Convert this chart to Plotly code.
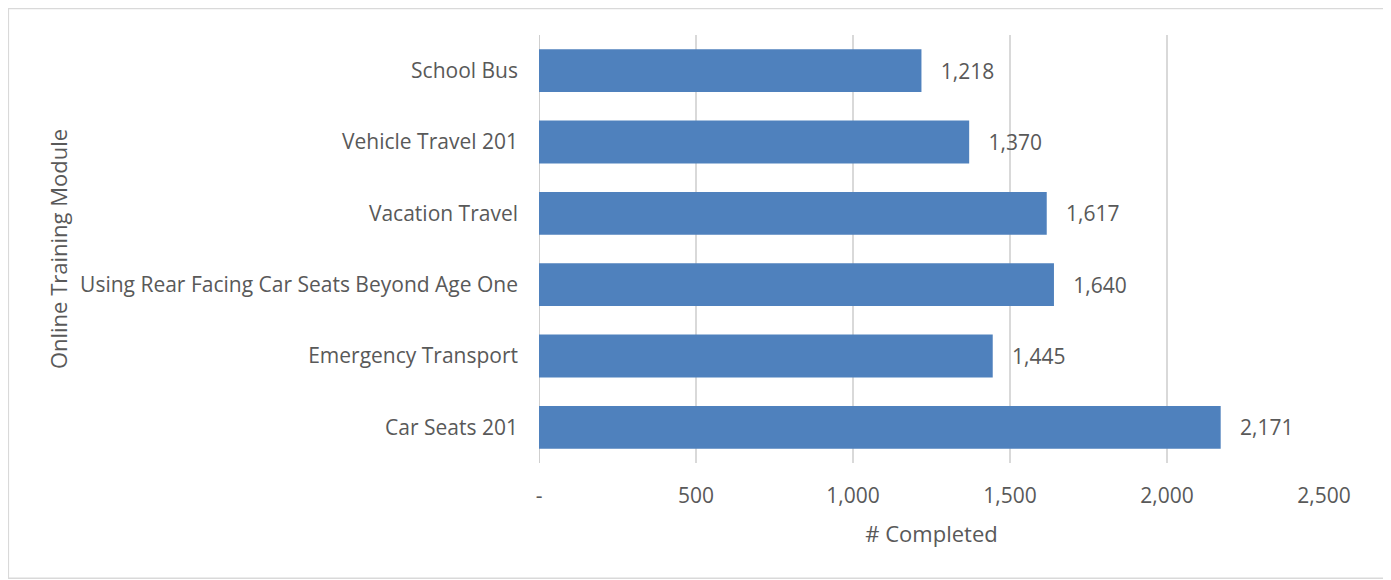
import plotly.graph_objects as go

# Modules listed bottom to top (plotly draws first category at the bottom)
modules = [
    "Car Seats 201",
    "Emergency Transport",
    "Using Rear Facing Car Seats Beyond Age One",
    "Vacation Travel",
    "Vehicle Travel 201",
    "School Bus",
]
completed = [2171, 1445, 1640, 1617, 1370, 1218]

tick_vals = [0, 500, 1000, 1500, 2000, 2500]
tick_text = ["-", "500", "1,000", "1,500", "2,000", "2,500"]

FONT = "Open Sans"
TEXT_GREY = "#595959"

fig = go.Figure(go.Bar(
    y=modules,
    x=completed,
    orientation="h",
    marker=dict(color="#4F81BD", line=dict(color="#4F81BD", width=0)),
    width=0.6,
    text=[f"{v:,}" for v in completed],
    texttemplate="   %{text}",
    textposition="outside",
    cliponaxis=False,
    textfont=dict(family=FONT, size=21, color=TEXT_GREY),
    hoverinfo="x+y",
))

# page body adds an 8px margin, so the figure is sized to fit the window
fig.update_layout(
    width=1383,
    height=572,
    margin=dict(l=531, r=67, t=27, b=117),
    paper_bgcolor="white",
    plot_bgcolor="white",
    font=dict(family=FONT, size=21, color=TEXT_GREY),
    showlegend=False,
    bargap=0.4,
)

fig.update_xaxes(
    range=[0, 2500],
    tickvals=tick_vals,
    ticktext=tick_text,
    showgrid=True,
    gridcolor="#D9D9D9",
    gridwidth=1.5,
    zeroline=False,
    showline=False,
    ticklabelstandoff=18,
    title=dict(text="# Completed", font=dict(family=FONT, size=22, color=TEXT_GREY), standoff=18),
)

fig.update_yaxes(
    showgrid=False,
    zeroline=False,
    showline=False,
    ticklabelstandoff=20,
    title=dict(text="Online Training Module", font=dict(family=FONT, size=22, color=TEXT_GREY), standoff=6),
    automargin=False,
)

# axis line at zero, drawn on the x-axis scale
fig.add_shape(type="line", xref="x", yref="paper", x0=0, x1=0, y0=0, y1=1,
              line=dict(color="#BFBFBF", width=1.5), layer="below")

# light frame around the whole chart
fig.add_shape(type="rect", xref="paper", yref="paper",
              x0=-0.676, x1=1.078, y0=-0.269, y1=1.062,
              line=dict(color="#D9D9D9", width=1.5))

fig.write_html("out.html")
